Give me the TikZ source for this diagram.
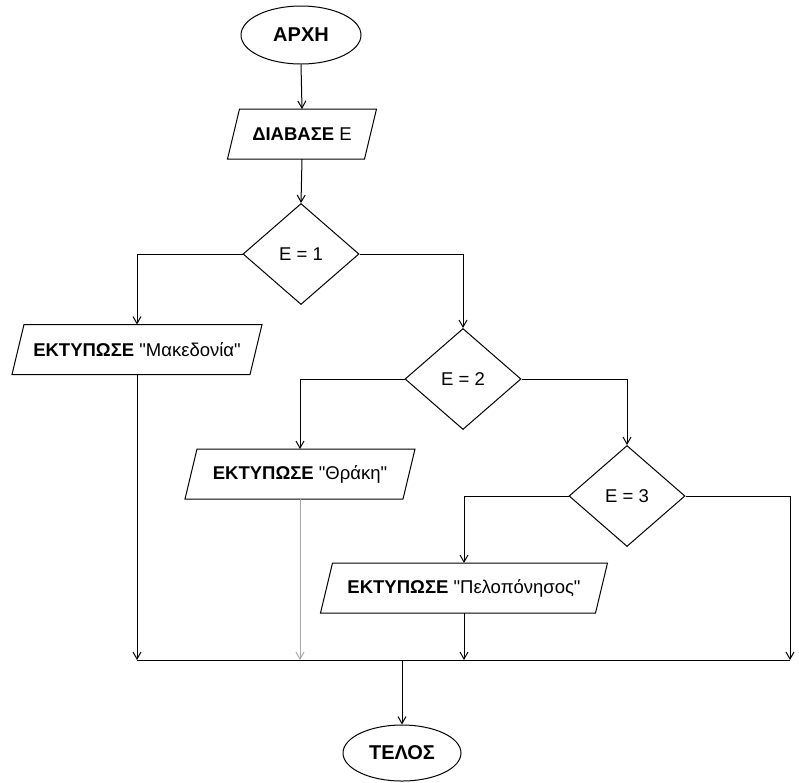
\documentclass[tikz,border=0pt]{standalone}
\usepackage{fontspec}
\setmainfont{Liberation Sans}[Ligatures=TeXOff]
\usetikzlibrary{arrows.meta,shapes.geometric}
\begin{document}
\begin{tikzpicture}[x=1pt,y=-1pt,
  font=\fontsize{18.5}{21}\selectfont,
  line width=1pt,
  arr/.style={-{Straight Barb[length=7pt,width=8pt]}},
  term/.style={ellipse,draw,minimum width=#1,minimum height=58pt,inner sep=0pt,font=\fontsize{20}{22}\selectfont\bfseries},
  dec/.style={diamond,draw,minimum width=116pt,minimum height=101pt,inner sep=0pt,aspect=1.15},
  io/.style={rectangle,draw=none,inner sep=0pt,minimum height=49pt}]
\useasboundingbox (0,0) rectangle (799,782);

\node[term=120pt] (start) at (301,35) {ΑΡΧΗ};
\node[io,minimum width=136pt] (read) at (302,134) {\textbf{ΔΙΑΒΑΣΕ} Ε};
\node[dec] (d1) at (301,254) {Ε = 1};
\node[io,minimum width=237pt] (mak) at (137,349.5) {\textbf{ΕΚΤΥΠΩΣΕ} "Μακεδονία"};
\node[dec] (d2) at (463,379) {Ε = 2};
\node[io,minimum width=217pt] (thr) at (300,474) {\textbf{ΕΚΤΥΠΩΣΕ} "Θράκη"};
\node[dec] (d3) at (627,496) {Ε = 3};
\node[io,minimum width=274pt] (pel) at (464,588) {\textbf{ΕΚΤΥΠΩΣΕ} "Πελοπόνησος"};
\node[term=118pt,minimum height=56pt] (end) at (402,753) {ΤΕΛΟΣ};

\foreach \n in {read,mak,thr,pel}{
  \draw ([xshift=6pt]\n.north west) -- ([xshift=6pt]\n.north east)
    -- ([xshift=-6pt]\n.south east) -- ([xshift=-6pt]\n.south west) -- cycle;
}

\coordinate (mL) at (137,660);
\coordinate (mR) at (790,660);
\coordinate (mC) at (402,660);

\draw[arr] (start.south) -- (read.north);
\draw[arr] (read.south) -- (d1.north);
\draw[arr] (d1.west) -| (mak.north);
\draw[arr] (d1.east) -| (d2.north);
\draw[arr] (d2.west) -| (thr.north);
\draw[arr] (d2.east) -| (d3.north);
\draw[arr] (d3.west) -| (pel.north);
\draw[arr] (d3.east) -| (mR);
\draw[arr] (mak.south) -- (mL);
\draw[arr,gray!70] (thr.south) -- (thr.south |- mL);
\draw[arr] (pel.south) -- (pel.south |- mL);
\draw (mL) -- (mR);
\draw[arr] (mC) -- (end.north);
\end{tikzpicture}
\end{document}
